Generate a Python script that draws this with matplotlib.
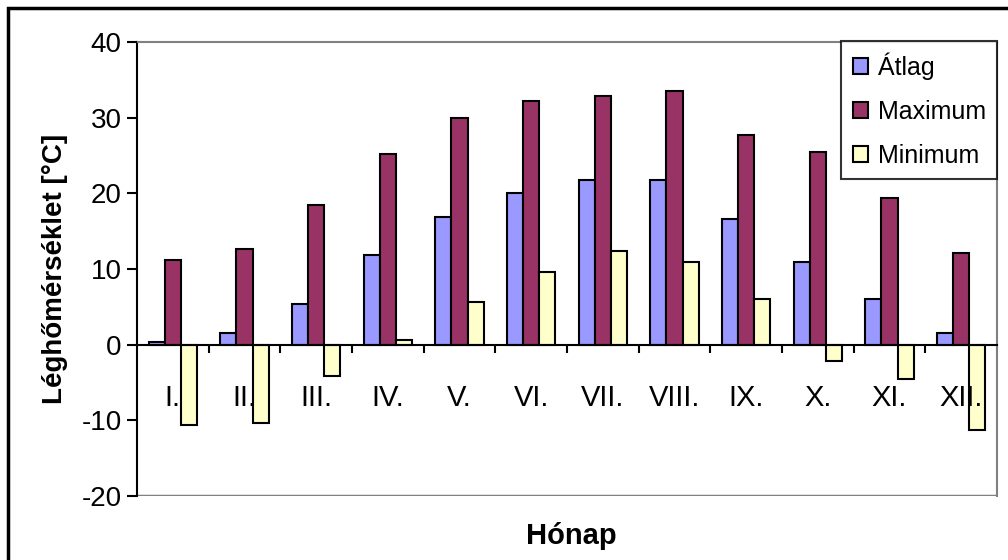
import numpy as np
import matplotlib
matplotlib.use("Agg")
import matplotlib.pyplot as plt
from matplotlib.patches import Rectangle

plt.rcParams['font.family'] = ['Liberation Sans', 'DejaVu Sans']
plt.rcParams['axes.unicode_minus'] = False

months = ["I.", "II.", "III.", "IV.", "V.", "VI.", "VII.", "VIII.", "IX.", "X.", "XI.", "XII."]
atlag = [0.3, 1.6, 5.4, 11.8, 16.9, 20.1, 21.7, 21.7, 16.6, 10.9, 6.1, 1.6]
maximum = [11.2, 12.7, 18.5, 25.2, 30.0, 32.2, 32.9, 33.5, 27.7, 25.5, 19.4, 12.1]
minimum = [-10.6, -10.3, -4.2, 0.6, 5.7, 9.6, 12.4, 10.9, 6.0, -2.2, -4.5, -11.3]
series_names = ["Átlag", "Maximum", "Minimum"]
colors = ["#9999FF", "#993366", "#FFFFCC"]

fig = plt.figure(figsize=(10.08, 5.6), dpi=100)
ax = fig.add_axes([137/1008, 1 - 496/560, 860/1008, 454/560])

x = np.arange(len(months))
w = 0.225
for i, (vals, name, c) in enumerate(zip([atlag, maximum, minimum], series_names, colors)):
    ax.bar(x + (i - 1) * w, vals, w, color=c, edgecolor="black", linewidth=1.5, label=name, zorder=2)

# month labels are drawn over the bars
ax.set_axisbelow(False)

ax.set_xlim(-0.5, 11.5)
ax.set_ylim(-20, 40)
ax.set_yticks(np.arange(-20, 41, 10))
ax.tick_params(axis="y", direction="out", length=7, width=1.5, labelsize=20, pad=4)

# category axis crosses at zero
ax.spines["bottom"].set_position(("data", 0))
ax.spines["bottom"].set_linewidth(1.5)
ax.spines["left"].set_linewidth(1.5)
for s in ["top", "right"]:
    ax.spines[s].set_color("#808080")
    ax.spines[s].set_linewidth(1.5)
ax.axhline(-20, color="#808080", lw=2.5, zorder=1)

ax.set_xticks(np.arange(0.5, 11.5, 1))
ax.set_xticklabels([])
ax.tick_params(axis="x", which="major", direction="out", length=6, width=1.5)
ax.set_xticks(x, minor=True)
ax.set_xticklabels(months, minor=True)
ax.tick_params(axis="x", which="minor", length=0, labelsize=21, pad=28)

ax.set_ylabel("Léghőmérséklet [°C]", fontsize=20, fontweight="bold", labelpad=10)
fig.text(0.567, 0.042, "Hónap", ha="center", va="center", fontsize=21, fontweight="bold")

leg = ax.legend(loc="upper right", bbox_to_anchor=(1.0, 1.002), fontsize=18, frameon=True,
                fancybox=False, edgecolor="black", handlelength=0.6, handleheight=0.6,
                handletextpad=0.4, labelspacing=0.8, borderpad=0.45, borderaxespad=0.0)
leg.get_frame().set_linewidth(1.5)
leg.set_zorder(5)

fig.patches.append(Rectangle((8/1008, -0.1), 1.2, 1.1 - 8/560, transform=fig.transFigure,
                             fill=False, edgecolor="black", linewidth=2.5))

fig.savefig("out.png", dpi=100)
